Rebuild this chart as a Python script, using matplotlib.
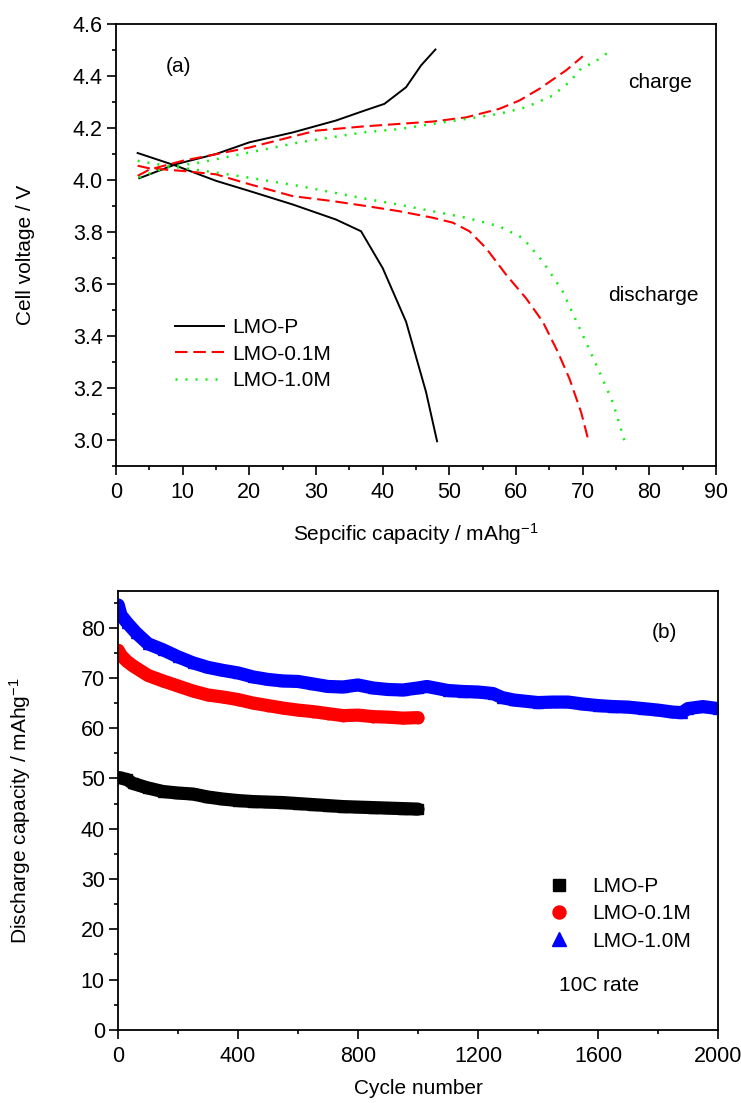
import numpy as np
import matplotlib
matplotlib.use("Agg")
import matplotlib.pyplot as plt
from matplotlib.ticker import MultipleLocator, FormatStrFormatter

plt.rcParams['font.family'] = ['Liberation Sans', 'DejaVu Sans']
plt.rcParams['mathtext.default'] = 'regular'

# (a) curvas de carga / descarga
cap_p_chg = [3.5, 9, 15, 20, 26.5, 33, 37.25, 40.25, 43.5, 45.75, 47.9]
v_p_chg = [4.007, 4.061, 4.10, 4.145, 4.183, 4.229, 4.267, 4.293, 4.357, 4.441, 4.502]
cap_p_dis = [3.25, 9, 15, 20, 26.5, 33, 36.75, 40, 43.5, 46.5, 48.15]
v_p_dis = [4.104, 4.055, 3.997, 3.958, 3.906, 3.848, 3.803, 3.661, 3.455, 3.184, 2.995]

cap_01_chg = [3.25, 5, 10, 20, 30, 37, 42.5, 47.5, 52.5, 57.5, 60.5, 63.5, 67.5, 70]
v_01_chg = [4.016, 4.04, 4.074, 4.125, 4.19, 4.206, 4.216, 4.225, 4.241, 4.274, 4.306, 4.351, 4.422, 4.476]
cap_01_dis = [3.25, 5, 10, 15, 20, 26.5, 32.5, 37.5, 42.5, 47.5, 50.5, 53, 55.5, 58.5, 61.5, 64, 66.25, 68,
              69.75, 70.9]
v_01_dis = [4.055, 4.045, 4.035, 4.022, 3.984, 3.938, 3.919, 3.90, 3.88, 3.855, 3.836, 3.803, 3.738, 3.636, 3.545,
            3.455, 3.339, 3.236, 3.107, 2.993]

cap_10_chg = [3.5, 7.5, 12.5, 20, 27.5, 37, 42.5, 47.5, 52.5, 57.5, 61.5, 65.5, 68, 69.75, 71.75, 73.6]
v_10_chg = [4.01, 4.048, 4.067, 4.106, 4.145, 4.183, 4.196, 4.216, 4.235, 4.255, 4.28, 4.325, 4.377, 4.429, 4.454,
            4.487]
cap_10_dis = [3.25, 7.5, 15, 20, 27.5, 37, 42.5, 47.5, 52.5, 57.5, 61, 64, 67, 70, 72.5, 74.5, 76.25]
v_10_dis = [4.074, 4.055, 4.029, 4.009, 3.977, 3.93, 3.905, 3.88, 3.855, 3.822, 3.777, 3.687, 3.571, 3.403, 3.262,
            3.145, 2.997]

# (b) ciclado a 10C
ciclo_p = [1, 30, 50, 100, 150, 200, 250, 300, 350, 400, 450, 500, 550, 600, 650, 700, 750, 800, 850, 900, 950, 1000]
cap_p = [50.2, 49.8, 49.0, 48.1, 47.4, 47.1, 46.9, 46.3, 45.9, 45.6, 45.4, 45.3, 45.2, 45.0, 44.8, 44.6, 44.4, 44.3,
         44.2, 44.1, 44.0, 43.9]
ciclo_01 = [1, 10, 30, 50, 100, 150, 200, 250, 300, 350, 400, 450, 500, 550, 600, 650, 700, 750, 800, 850, 900, 950, 1000]
cap_01 = [75.5, 74.5, 73.3, 72.4, 70.5, 69.4, 68.4, 67.4, 66.6, 66.2, 65.7, 65.0, 64.5, 64.0, 63.6, 63.3, 62.9, 62.5,
          62.6, 62.3, 62.2, 62.0, 62.1]
ciclo_10 = [1, 10, 30, 60, 100, 150, 200, 250, 300, 350, 400, 450, 500, 550, 600, 650, 700, 750, 800, 850, 900, 950,
            1000, 1030, 1100, 1150, 1200, 1250, 1280, 1320, 1400, 1450, 1500, 1550, 1600, 1650, 1700, 1750, 1800, 1850,
            1880, 1900, 1950, 2000]
cap_10 = [84.5, 82.5, 81.0, 79.0, 76.8, 75.6, 74.2, 73.0, 72.1, 71.5, 71.0, 70.2, 69.7, 69.4, 69.3, 68.8, 68.3, 68.2,
          68.6, 68.0, 67.7, 67.6, 68.0, 68.3, 67.5, 67.3, 67.2, 66.9, 66.1, 65.6, 65.1, 65.2, 65.2, 64.8, 64.5, 64.3,
          64.2, 63.9, 63.6, 63.2, 63.1, 63.9, 64.3, 63.9]

fs = 15
verde = '#11ee11'
fig = plt.figure(figsize=(7.41, 11.03), dpi=100)

# ---- grafico (a)
ax1 = fig.add_axes([0.1565, 0.5775, 0.810, 0.4007])
ax1.plot(cap_p_chg, v_p_chg, color='black', lw=1.4, label='LMO-P')
ax1.plot(cap_p_dis, v_p_dis, color='black', lw=1.4)
ax1.plot(cap_01_chg, v_01_chg, color='red', lw=1.5, dashes=(6, 2.8), label='LMO-0.1M')
ax1.plot(cap_01_dis, v_01_dis, color='red', lw=1.5, dashes=(6, 2.8))
ax1.plot(cap_10_chg, v_10_chg, color=verde, lw=1.8, dashes=(0.8, 3.2), label='LMO-1.0M')
ax1.plot(cap_10_dis, v_10_dis, color=verde, lw=1.8, dashes=(0.8, 3.2))
ax1.set_xlim(0, 90)
ax1.set_ylim(2.9, 4.6)
ax1.set_xticks(np.arange(0, 91, 10))
ax1.set_yticks(np.arange(3.0, 4.61, 0.2))
ax1.yaxis.set_major_formatter(FormatStrFormatter('%.1f'))
ax1.xaxis.set_minor_locator(MultipleLocator(5))
ax1.yaxis.set_minor_locator(MultipleLocator(0.1))
ax1.set_xlabel('Sepcific capacity / mAhg$^{-1}$', fontsize=fs, labelpad=13)
ax1.set_ylabel('Cell voltage / V', fontsize=fs)
ax1.yaxis.set_label_coords(-0.135, 0.477)
ax1.text(0.105, 0.903, '(a)', transform=ax1.transAxes, fontsize=fs, ha='center', va='center')
ax1.text(0.907, 0.867, 'charge', transform=ax1.transAxes, fontsize=fs, ha='center', va='center')
ax1.text(0.895, 0.385, 'discharge', transform=ax1.transAxes, fontsize=fs, ha='center', va='center')
ax1.legend(loc='upper left', bbox_to_anchor=(0.085, 0.353), frameon=False, fontsize=fs,
           handlelength=2.35, handletextpad=0.4, labelspacing=0.35, borderaxespad=0)

# ---- grafico (b)
ax2 = fig.add_axes([0.1592, 0.0664, 0.8097, 0.3978])
ax2.plot(ciclo_p, cap_p, color='black', lw=9.5, solid_capstyle='round')
ax2.plot(ciclo_01, cap_01, color='red', lw=9.5, solid_capstyle='round')
ax2.plot(ciclo_10, cap_10, color='blue', lw=9.5, solid_capstyle='round')
ax2.plot(ciclo_p, cap_p, 's', color='black', ms=6.5, label='LMO-P')
ax2.plot(ciclo_01, cap_01, 'o', color='red', ms=7.5, label='LMO-0.1M')
ax2.plot(ciclo_10, cap_10, '^', color='blue', ms=7.5, label='LMO-1.0M')
ax2.set_xlim(0, 2000)
ax2.set_ylim(0, 87.3)
ax2.set_xticks(np.arange(0, 2001, 400))
ax2.set_yticks(np.arange(0, 81, 10))
ax2.xaxis.set_minor_locator(MultipleLocator(200))
ax2.yaxis.set_minor_locator(MultipleLocator(5))
ax2.set_xlabel('Cycle number', fontsize=fs, labelpad=9)
ax2.set_ylabel('Discharge capacity / mAhg$^{-1}$', fontsize=fs)
ax2.yaxis.set_label_coords(-0.142, 0.5)
ax2.text(0.911, 0.906, '(b)', transform=ax2.transAxes, fontsize=fs, ha='center', va='center')
ax2.text(0.735, 0.10, '10C rate', transform=ax2.transAxes, fontsize=fs, va='center')
ax2.legend(loc='upper left', bbox_to_anchor=(0.70, 0.367), frameon=False, fontsize=fs, markerscale=1.25,
           handlelength=1.2, handletextpad=1.0, labelspacing=0.4, borderaxespad=0)

for ax in (ax1, ax2):
    ax.tick_params(which='both', direction='out', top=False, right=False, labelsize=15.5, width=1.2)
    ax.tick_params(which='major', length=6.5)
    ax.tick_params(which='minor', length=3)
    ax.tick_params(axis='y', pad=3)
    ax.tick_params(axis='x', pad=5)
    for s in ax.spines.values():
        s.set_linewidth(1.3)

fig.savefig('out.png', dpi=100)
